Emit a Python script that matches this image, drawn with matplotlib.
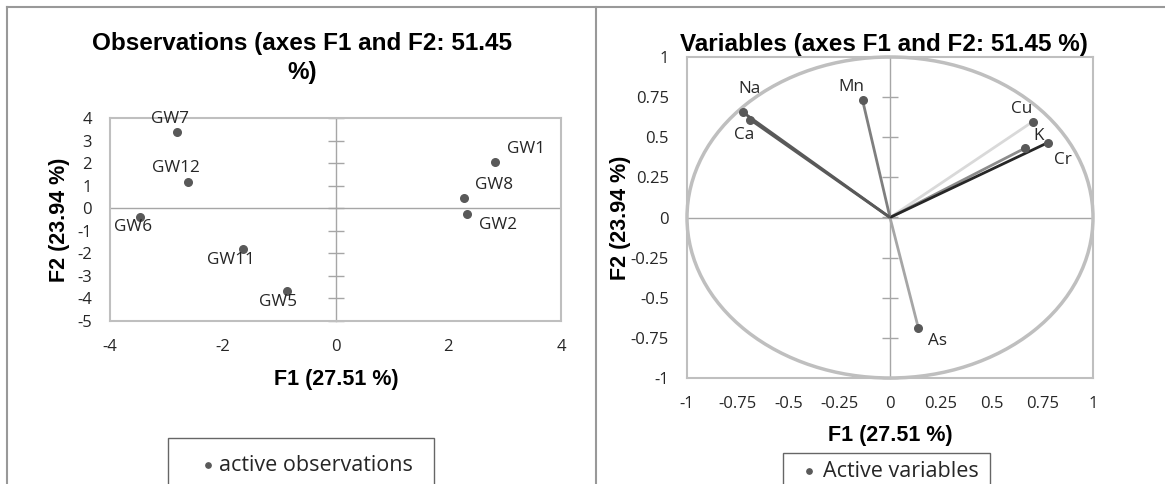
import numpy as np
import matplotlib.pyplot as plt
from matplotlib.lines import Line2D
from matplotlib.patches import Circle

plt.rcParams['axes.unicode_minus'] = False

# Observations: factor scores on F1 and F2
obs_names = ['GW7', 'GW12', 'GW6', 'GW11', 'GW5', 'GW1', 'GW8', 'GW2']
obs_f1 = [-2.81, -2.62, -3.46, -1.64, -0.86, 2.83, 2.28, 2.34]
obs_f2 = [3.38, 1.16, -0.37, -1.82, -3.66, 2.03, 0.44, -0.27]

# Variables: correlations with F1 and F2
var_names = ['As', 'Mn', 'Cu', 'K', 'Cr', 'Na', 'Ca']
var_f1 = [0.140, -0.135, 0.704, 0.665, 0.777, -0.725, -0.689]
var_f2 = [-0.690, 0.730, 0.598, 0.432, 0.466, 0.656, 0.610]
var_colors = ['#a6a6a6', '#7f7f7f', '#d9d9d9', '#8c8c8c', '#262626', '#595959', '#595959']

obs_ticks_x = [-4, -2, 0, 2, 4]
obs_ticks_y = list(range(-5, 5))
var_ticks = [-1, -0.75, -0.5, -0.25, 0, 0.25, 0.5, 0.75, 1]

# label offsets in pixels (dx, dy down)
obs_off = [(-7, -13), (-12, -14), (-7, 10), (-12, 11), (-9, 11), (31, -13), (30, -13), (31, 11)]
var_off = [(19, 13), (-11, -13), (-11, -13), (14, -12), (15, 17), (7, -23), (-6, 15)]

W, H = 1165, 484
fig = plt.figure(figsize=(W / 100, H / 100), dpi=100)
PT = 0.72  # points per pixel

lab_font = ['Open Sans', 'DejaVu Sans']
bold_font = ['Liberation Sans', 'DejaVu Sans']
frame_c = '#bfbfbf'
axis_c = '#a6a6a6'
dot_c = '#595959'
txt_c = '#262626'


def style(ax, xt, yt):
    for s in ax.spines.values():
        s.set_color(frame_c)
        s.set_linewidth(1.5)
    ax.set_xticks(xt)
    ax.set_yticks(yt)
    ax.set_xticklabels(['%g' % v for v in xt])
    ax.set_yticklabels(['%g' % v for v in yt])
    ax.tick_params(length=0, pad=13, labelsize=12, labelcolor=txt_c)
    for t in ax.get_xticklabels() + ax.get_yticklabels():
        t.set_family(lab_font)
    ax.axhline(0, color=axis_c, lw=1, zorder=1)
    # vertical zero axis with crossing tick marks
    sec = ax.secondary_yaxis(0.5)
    sec.set_yticks(yt)
    sec.tick_params(direction='inout', length=11, width=1, color=axis_c,
                    labelleft=False, labelright=False)
    for s in sec.spines.values():
        s.set_color(axis_c)
        s.set_linewidth(1)


# ---- left: observations
ax1 = fig.add_axes([110 / W, 1 - 321 / H, 451 / W, 203 / H])
ax1.set_xlim(-4, 4)
ax1.set_ylim(-5, 4)
style(ax1, obs_ticks_x, obs_ticks_y)
sc = ax1.scatter(obs_f1, obs_f2, s=30, color=dot_c, zorder=3, label='active observations')
for name, x, y, (dx, dy) in zip(obs_names, obs_f1, obs_f2, obs_off):
    ax1.annotate(name, (x, y), xytext=(dx * PT, -dy * PT), textcoords='offset points',
                 ha='center', va='center', fontsize=12.3, family=lab_font, color=txt_c,
                 annotation_clip=False)
ax1.set_xlabel('F1 (27.51 %)', fontsize=15.5, fontweight='bold', family=bold_font)
ax1.set_ylabel('F2 (23.94 %)', fontsize=15.5, fontweight='bold', family=bold_font)
ax1.xaxis.set_label_coords(0.501, -0.29)
ax1.yaxis.set_label_coords(-0.111, 0.5)
ax1.xaxis.label.set_va('center')
ax1.yaxis.label.set_va('center')
fig.text(302 / W, 1 - 58 / H, 'Observations (axes F1 and F2: 51.45\n%)', ha='center', va='center',
         fontsize=17.5, fontweight='bold', family=bold_font, linespacing=1.37)

# ---- right: variables
ax2 = fig.add_axes([687 / W, 1 - 378 / H, 406 / W, 321 / H])
ax2.set_xlim(-1, 1)
ax2.set_ylim(-1, 1)
style(ax2, var_ticks, var_ticks)
ax2.add_patch(Circle((0, 0), 1, fill=False, ec=frame_c, lw=2.5, zorder=2, clip_on=False))
for x, y, c in zip(var_f1, var_f2, var_colors):
    ax2.plot([0, x], [0, y], color=c, lw=2, zorder=3, solid_capstyle='butt')
sc2 = ax2.scatter(var_f1, var_f2, s=30, color=dot_c, zorder=4, label='Active variables')
for name, x, y, (dx, dy) in zip(var_names, var_f1, var_f2, var_off):
    ax2.annotate(name, (x, y), xytext=(dx * PT, -dy * PT), textcoords='offset points',
                 ha='center', va='center', fontsize=12.3, family=lab_font, color=txt_c,
                 annotation_clip=False)
ax2.set_xlabel('F1 (27.51 %)', fontsize=15.5, fontweight='bold', family=bold_font)
ax2.set_ylabel('F2 (23.94 %)', fontsize=15.5, fontweight='bold', family=bold_font)
ax2.xaxis.set_label_coords(0.5, -0.178)
ax2.yaxis.set_label_coords(-0.165, 0.5)
ax2.xaxis.label.set_va('center')
ax2.yaxis.label.set_va('center')
fig.text(884 / W, 1 - 45 / H, 'Variables (axes F1 and F2: 51.45 %)', ha='center', va='center',
         fontsize=17.5, fontweight='bold', family=bold_font)

# ---- legends (boxes run off the bottom edge)
leg_kw = dict(loc='upper left', mode='expand', borderaxespad=0, fancybox=False,
              scatterpoints=1, markerscale=0.7, prop={'family': lab_font, 'size': 15.5})
l1 = fig.legend(handles=[sc], bbox_to_anchor=(168 / W, 0, 266 / W, 1 - 438 / H),
                borderpad=0.79, handlelength=2.14, handletextpad=-0.56, **leg_kw)
l2 = fig.legend(handles=[sc2], bbox_to_anchor=(783 / W, 0, 207 / W, 1 - 453 / H),
                borderpad=0.37, handlelength=1.67, handletextpad=-0.19, **leg_kw)
for leg in (l1, l2):
    leg.get_frame().set_edgecolor('#404040')
    leg.get_frame().set_linewidth(1)
    for t in leg.get_texts():
        t.set_color(txt_c)

# ---- outer chart borders
for xs, ys in [([7, W], [7, 7]), ([7, 7], [7, H]), ([596, 596], [7, H])]:
    fig.add_artist(Line2D([x / W for x in xs], [1 - y / H for y in ys],
                          transform=fig.transFigure, color='#999999', lw=1.5))

fig.savefig('out.png', dpi=100)
